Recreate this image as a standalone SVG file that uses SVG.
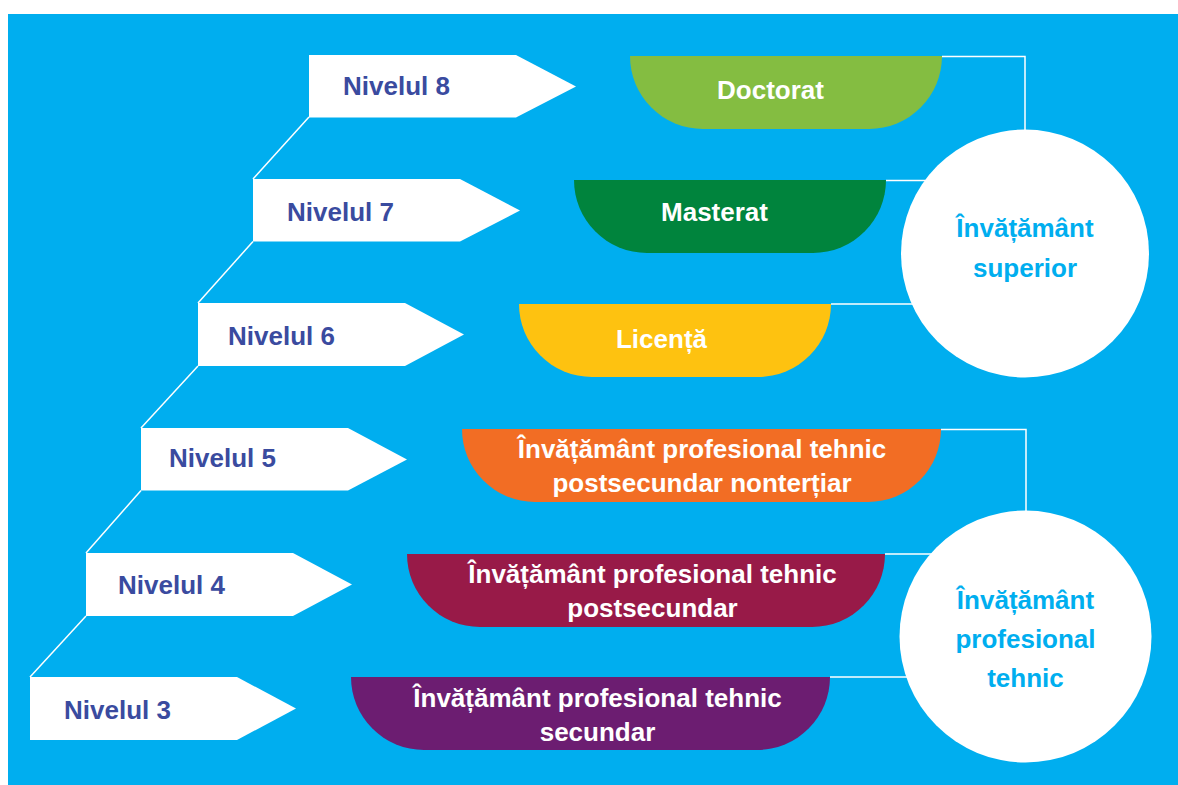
<svg xmlns="http://www.w3.org/2000/svg" width="1178" height="785" viewBox="0 0 1178 785">
  <style>
    .lvl { fill: #ffffff; }
    .lvltxt { font-family: "Liberation Sans", Arial, sans-serif; font-weight: bold; font-size: 26px; fill: #3A4B9F; }
    .bartxt { font-family: "Liberation Sans", Arial, sans-serif; font-weight: bold; font-size: 26px; fill: #ffffff; text-anchor: middle; }
    .circ { fill: #ffffff; }
    .circtxt { font-family: "Liberation Sans", Arial, sans-serif; font-weight: bold; font-size: 26px; fill: #00AEEF; text-anchor: middle; }
    .conn { fill: none; stroke: #ffffff; stroke-width: 1.5; }
  </style>
  <rect x="0" y="0" width="1178" height="785" fill="#ffffff"/>
  <rect x="8" y="14" width="1170" height="771" fill="#00AEEF"/>

  <g id="connectors">
    <path class="conn" d="M309 117 L253 179"/>
    <path class="conn" d="M253 241.5 L198 303"/>
    <path class="conn" d="M198 366 L141 428"/>
    <path class="conn" d="M141 490.5 L86 553"/>
    <path class="conn" d="M86 616 L30 677"/>
    <path class="conn" d="M942 56.5 H1025 V140"/>
    <path class="conn" d="M886 180.5 H1000"/>
    <path class="conn" d="M831 304 H1000"/>
    <path class="conn" d="M941 429.5 H1026 V520"/>
    <path class="conn" d="M885 554 H1000"/>
    <path class="conn" d="M830 677 H1000"/>
  </g>

  <g id="nivelul8">
    <path class="lvl" d="M309 55 H516 L576 86.5 L516 117.5 H309 Z"/>
    <text class="lvltxt" x="343" y="95">Nivelul 8</text>
  </g>
  <g id="nivelul7">
    <path class="lvl" d="M253 179 H460 L520 210.5 L460 241.5 H253 Z"/>
    <text class="lvltxt" x="287" y="221">Nivelul 7</text>
  </g>
  <g id="nivelul6">
    <path class="lvl" d="M198 303 H405 L464 334.5 L405 366 H198 Z"/>
    <text class="lvltxt" x="228" y="345">Nivelul 6</text>
  </g>
  <g id="nivelul5">
    <path class="lvl" d="M141 428 H348 L407 459.5 L348 490.5 H141 Z"/>
    <text class="lvltxt" x="169" y="467">Nivelul 5</text>
  </g>
  <g id="nivelul4">
    <path class="lvl" d="M86 553 H293 L352 584.5 L293 616 H86 Z"/>
    <text class="lvltxt" x="118" y="594">Nivelul 4</text>
  </g>
  <g id="nivelul3">
    <path class="lvl" d="M30 677 H237 L296 708.5 L237 740 H30 Z"/>
    <text class="lvltxt" x="64" y="719">Nivelul 3</text>
  </g>

  <g id="doctorat">
    <path fill="#84BD41" d="M630 56 H942 A73 73 0 0 1 869 129 H703 A73 73 0 0 1 630 56 Z"/>
    <text class="bartxt" x="770.5" y="99">Doctorat</text>
  </g>
  <g id="masterat">
    <path fill="#00843D" d="M574 180 H886 A73 73 0 0 1 813 253 H647 A73 73 0 0 1 574 180 Z"/>
    <text class="bartxt" x="714.5" y="221">Masterat</text>
  </g>
  <g id="licenta">
    <path fill="#FEC210" d="M519 304 H831 A73 73 0 0 1 758 377 H592 A73 73 0 0 1 519 304 Z"/>
    <text class="bartxt" x="661.5" y="348">Licență</text>
  </g>
  <g id="postsecundar-nonteriar">
    <path fill="#F26D24" d="M462 429 H941 A73 73 0 0 1 868 502 H535 A73 73 0 0 1 462 429 Z"/>
    <text class="bartxt" x="702" y="458">Învățământ profesional tehnic</text>
    <text class="bartxt" x="702" y="492">postsecundar nonterțiar</text>
  </g>
  <g id="postsecundar">
    <path fill="#981A48" d="M407 554 H885 A73 73 0 0 1 812 627 H480 A73 73 0 0 1 407 554 Z"/>
    <text class="bartxt" x="652.5" y="583">Învățământ profesional tehnic</text>
    <text class="bartxt" x="652.5" y="617">postsecundar</text>
  </g>
  <g id="secundar">
    <path fill="#6C1D71" d="M351 677 H830 A73 73 0 0 1 757 750 H424 A73 73 0 0 1 351 677 Z"/>
    <text class="bartxt" x="597.5" y="707">Învățământ profesional tehnic</text>
    <text class="bartxt" x="597.5" y="741">secundar</text>
  </g>

  <g id="invatamant-superior">
    <circle class="circ" cx="1025" cy="253.5" r="124"/>
    <text class="circtxt" x="1025" y="237">Învățământ</text>
    <text class="circtxt" x="1025" y="277">superior</text>
  </g>
  <g id="invatamant-profesional-tehnic">
    <circle class="circ" cx="1025.5" cy="636.5" r="126"/>
    <text class="circtxt" x="1025.5" y="609">Învățământ</text>
    <text class="circtxt" x="1025.5" y="648">profesional</text>
    <text class="circtxt" x="1025.5" y="687">tehnic</text>
  </g>
</svg>
